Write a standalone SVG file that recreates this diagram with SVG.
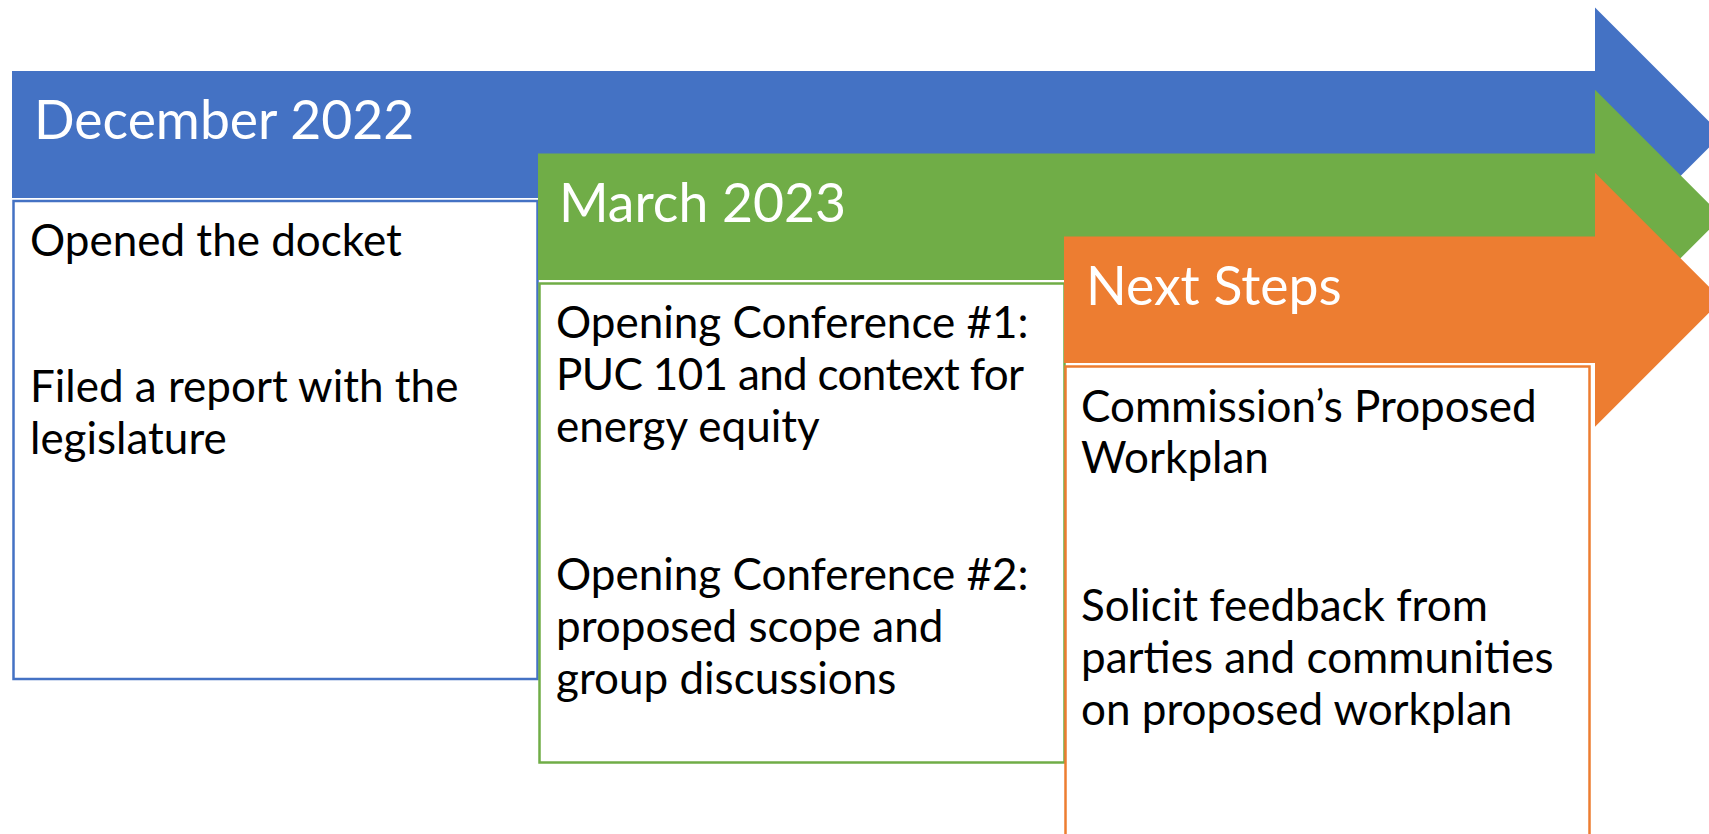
<svg xmlns="http://www.w3.org/2000/svg" width="1709" height="834" viewBox="0 0 1709 834">
<style>
.hdr{font-family:Lato,"Liberation Sans",sans-serif;font-size:53.5px;fill:#fff}
.body{font-family:Lato,"Liberation Sans",sans-serif;font-size:44px;fill:#000}
.box{fill:#fff;stroke-width:2.5}
</style>
<rect width="1709" height="834" fill="#fff"/>
<g id="december">
<polygon points="12,71 1595,71 1595,7.5 1722,134.5 1595,261.5 1595,198 12,198" fill="#4472C4"/>
<text class="hdr" x="34" y="139">December 2022</text>
</g>
<g id="december-box">
<rect class="box" x="13.5" y="201" width="524" height="478" stroke="#4472C4"/>
<text class="body" x="30" y="256">Opened the docket</text>
<text class="body" x="30" y="402">Filed a report with the</text>
<text class="body" x="30" y="454">legislature</text>
</g>
<g id="march">
<polygon points="538,153.5 1595,153.5 1595,89.75 1722,216.75 1595,343.75 1595,280 538,280" fill="#70AD47"/>
<text class="hdr" x="559" y="221.5">March 2023</text>
</g>
<g id="march-box">
<rect class="box" x="539.5" y="283.5" width="525" height="479" stroke="#70AD47"/>
<text class="body" x="556" y="338">Opening Conference #1:</text>
<text class="body" x="556" y="390" textLength="468" lengthAdjust="spacing">PUC 101 and context for</text>
<text class="body" x="556" y="442">energy equity</text>
<text class="body" x="556" y="590">Opening Conference #2:</text>
<text class="body" x="556" y="642">proposed scope and</text>
<text class="body" x="556" y="694">group discussions</text>
</g>
<g id="next">
<polygon points="1064,236.5 1595,236.5 1595,172.75 1722,299.75 1595,426.75 1595,363 1064,363" fill="#ED7D31"/>
<text class="hdr" x="1086" y="305">Next Steps</text>
</g>
<g id="next-box">
<rect class="box" x="1065.5" y="366.5" width="524" height="479" stroke="#ED7D31"/>
<text class="body" x="1081" y="421.5">Commission’s Proposed</text>
<text class="body" x="1081" y="473">Workplan</text>
<text class="body" x="1081" y="621">Solicit feedback from</text>
<text class="body" x="1081" y="673">parties and communities</text>
<text class="body" x="1081" y="725">on proposed workplan</text>
</g>
<g id="connectors"/>
</svg>
